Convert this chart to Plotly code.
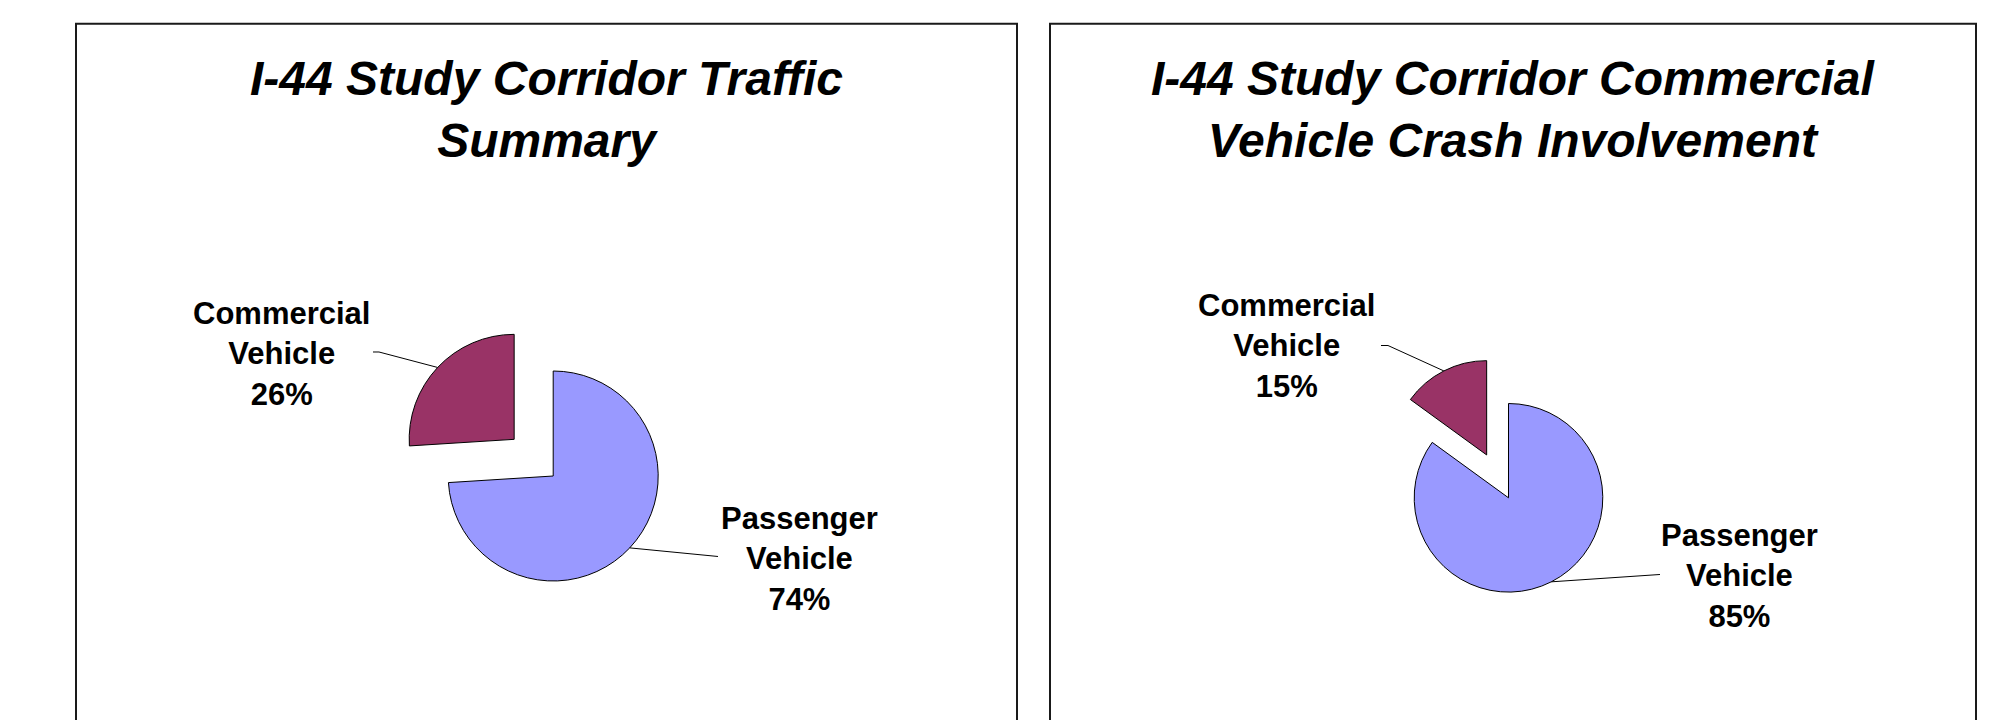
import math
import plotly.graph_objects as go

# page is 1994x720; the browser body adds an 8px margin, so the figure is
# slightly smaller and page coordinates are shifted by OFF
OFF = 8
W, H = 1994 - 2 * OFF, 720 - OFF

# ---- data (drawing order: passenger first, clockwise from 12 o'clock) ----
categories = ["Passenger Vehicle", "Commercial Vehicle"]
label_lines = ["Passenger<br>Vehicle", "Commercial<br>Vehicle"]
traffic_pct = [74, 26]
crash_pct = [85, 15]
titles = [
    "I-44 Study Corridor Traffic<br>Summary",
    "I-44 Study Corridor Commercial<br>Vehicle Crash Involvement",
]

# ---- style / layout ----
colors = ["#9999FF", "#993366"]
PULL = 0.51
pulls = [0, PULL]
FONT = "Liberation Sans, Arial, sans-serif"

panels = [
    dict(values=traffic_pct, title=titles[0], box=(76, 1017), cx=553.2, cy=476.0, r=105.0,
         lab=[(799.5, 559.0), (281.7, 354.0)],
         tail=[[(718, 556.5)], [(373, 352), (379, 352)]]),
    dict(values=crash_pct, title=titles[1], box=(1050, 1976), cx=1508.5, cy=497.8, r=94.3,
         lab=[(1739.0, 576.0), (1286.0, 346.0)],
         tail=[[(1660, 574.5)], [(1381, 345.5), (1388, 345.5)]]),
]


def px(x):
    return (x - OFF) / W


def py(y):
    return 1 - (y - OFF) / H


fig = go.Figure()
shapes = []
annotations = []

for p in panels:
    R = p["r"] * (1 + PULL)
    fig.add_trace(go.Pie(
        labels=categories,
        values=p["values"],
        sort=False,
        direction="clockwise",
        rotation=0,
        pull=pulls,
        marker=dict(colors=colors, line=dict(color="#000000", width=1)),
        textinfo="none",
        hoverinfo="label+percent",
        showlegend=False,
        domain=dict(x=[px(p["cx"] - R), px(p["cx"] + R)],
                    y=[py(p["cy"] + R), py(p["cy"] - R)]),
    ))

    # panel border
    x0, x1 = p["box"]
    shapes.append(dict(type="rect", xref="paper", yref="paper",
                       x0=px(x0), x1=px(x1), y0=-0.1, y1=py(23.7),
                       line=dict(color="#1a1a1a", width=2), fillcolor="rgba(0,0,0,0)",
                       layer="below"))

    # title
    annotations.append(dict(text=p["title"], xref="paper", yref="paper",
                            x=px((x0 + x1) / 2), y=py(109), xanchor="center", yanchor="middle",
                            showarrow=False,
                            font=dict(family=FONT, size=48, color="#000000",
                                      weight="bold", style="italic")))

    # slice geometry derived from the values (clockwise from 12 o'clock)
    vals = p["values"]
    tot = sum(vals)
    start = 0.0
    for i in range(2):
        span = 360.0 * vals[i] / tot
        mid = math.radians(start + span / 2)
        start += span
        rad = p["r"] * (1 + pulls[i])
        ax_ = p["cx"] + rad * math.sin(mid)
        ay_ = p["cy"] - rad * math.cos(mid)
        # label
        lx, ly = p["lab"][i]
        annotations.append(dict(text=f"{label_lines[i]}<br>{vals[i]}%", xref="paper", yref="paper",
                                x=px(lx), y=py(ly), xanchor="center", yanchor="middle",
                                showarrow=False, align="center",
                                font=dict(family=FONT, size=31, color="#000000", weight="bold")))
        # leader line from slice edge to label
        pts = [(ax_, ay_)] + list(reversed(p["tail"][i])) if i == 1 else [(ax_, ay_)] + list(p["tail"][i])
        path = "M " + " L ".join(f"{px(a):.6f} {py(b):.6f}" for a, b in pts)
        shapes.append(dict(type="path", xref="paper", yref="paper", path=path,
                           line=dict(color="#000000", width=1)))

fig.update_layout(
    width=W, height=H,
    margin=dict(l=0, r=0, t=0, b=0),
    paper_bgcolor="#ffffff",
    plot_bgcolor="#ffffff",
    shapes=shapes,
    annotations=annotations,
)

fig.write_html("out.html")
